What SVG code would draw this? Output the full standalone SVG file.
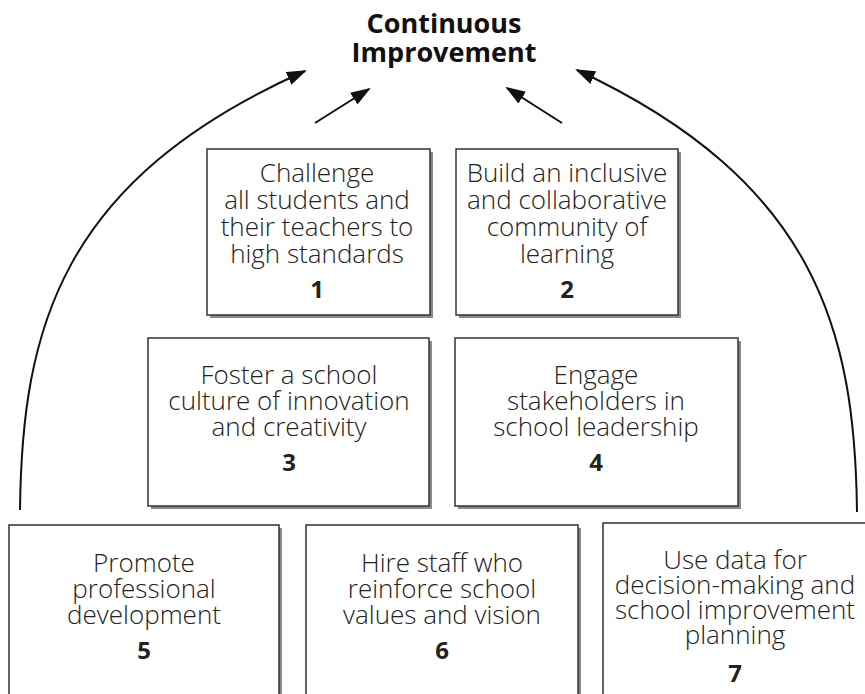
<svg xmlns="http://www.w3.org/2000/svg" width="865" height="694" viewBox="0 0 865 694">
<style>
.box{fill:#fff;stroke:#333;stroke-width:1.5}
.sh{fill:#8a8a8a}
.t{font-family:"Open Sans","Liberation Sans",sans-serif;font-weight:300;font-size:26px;fill:#222;text-anchor:middle}
.n{font-family:"Open Sans","Liberation Sans",sans-serif;font-weight:700;font-size:24px;fill:#222;text-anchor:middle}
.ttl{font-family:"Open Sans","Liberation Sans",sans-serif;font-weight:700;font-size:27px;fill:#111;text-anchor:middle}
.c{fill:none;stroke:#111;stroke-width:2}
</style>
<defs>
<marker id="ah" markerWidth="20" markerHeight="14" refX="18" refY="7" orient="auto" markerUnits="userSpaceOnUse">
<path d="M0,0 L20,7 L0,14 Z" fill="#111"/>
</marker>
</defs>
<g id="title">
<text class="ttl" x="444" y="33">Continuous</text>
<text class="ttl" x="444" y="62">Improvement</text>
</g>
<g id="connectors">
<path class="c" d="M20,510 C22,330 60,180 305,71" marker-end="url(#ah)"/>
<path class="c" d="M857,512 C855,332 817,182 577,70" marker-end="url(#ah)"/>
<path class="c" d="M315,123 L369,89" marker-end="url(#ah)"/>
<path class="c" d="M562,123 L507,88" marker-end="url(#ah)"/>
</g>
<g id="node1">
<rect class="sh" x="210" y="152" width="223" height="166"/>
<rect class="box" x="207" y="149" width="223" height="166"/>
<text class="t" x="317" y="182">Challenge</text>
<text class="t" x="317" y="209">all students and</text>
<text class="t" x="317" y="236">their teachers to</text>
<text class="t" x="317" y="263">high standards</text>
<text class="n" x="317" y="298">1</text>
</g>
<g id="node2">
<rect class="sh" x="459" y="152" width="222" height="166"/>
<rect class="box" x="456" y="149" width="222" height="166"/>
<text class="t" x="567" y="182">Build an inclusive</text>
<text class="t" x="567" y="209">and collaborative</text>
<text class="t" x="567" y="236">community of</text>
<text class="t" x="567" y="263">learning</text>
<text class="n" x="567" y="298">2</text>
</g>
<g id="node3">
<rect class="sh" x="151" y="341" width="281" height="168"/>
<rect class="box" x="148" y="338" width="281" height="168"/>
<text class="t" x="289" y="384">Foster a school</text>
<text class="t" x="289" y="410">culture of innovation</text>
<text class="t" x="289" y="436">and creativity</text>
<text class="n" x="289" y="471">3</text>
</g>
<g id="node4">
<rect class="sh" x="458" y="341" width="283" height="168"/>
<rect class="box" x="455" y="338" width="283" height="168"/>
<text class="t" x="596" y="384">Engage</text>
<text class="t" x="596" y="410">stakeholders in</text>
<text class="t" x="596" y="436">school leadership</text>
<text class="n" x="596" y="471">4</text>
</g>
<g id="node5">
<rect class="sh" x="12" y="528" width="270" height="172"/>
<rect class="box" x="9" y="525" width="270" height="172"/>
<text class="t" x="144" y="572">Promote</text>
<text class="t" x="144" y="598">professional</text>
<text class="t" x="144" y="624">development</text>
<text class="n" x="144" y="659">5</text>
</g>
<g id="node6">
<rect class="sh" x="309" y="528" width="272" height="172"/>
<rect class="box" x="306" y="525" width="272" height="172"/>
<text class="t" x="442" y="572">Hire staff who</text>
<text class="t" x="442" y="598">reinforce school</text>
<text class="t" x="442" y="624">values and vision</text>
<text class="n" x="442" y="659">6</text>
</g>
<g id="node7">
<rect class="sh" x="606" y="526" width="270" height="175"/>
<rect class="box" x="603" y="523" width="270" height="175"/>
<text class="t" x="735" y="569">Use data for</text>
<text class="t" x="735" y="594">decision-making and</text>
<text class="t" x="735" y="619">school improvement</text>
<text class="t" x="735" y="644">planning</text>
<text class="n" x="735" y="682">7</text>
</g>
</svg>
